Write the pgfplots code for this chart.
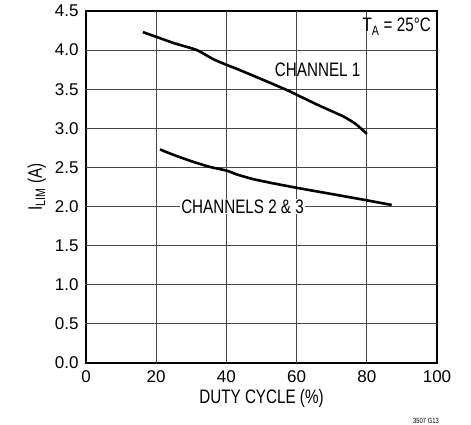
\documentclass[border=0pt]{standalone}
\usepackage{pgfplots}
\pgfplotsset{compat=1.18}
\usepackage{fontspec}
\setmainfont{Liberation Sans}
\newfontfamily\cond{Liberation Sans}[FakeStretch=0.78]
\newcommand{\lab}{\cond\fontsize{19.5}{22}\selectfont}
\definecolor{gridc}{RGB}{70,70,70}
\begin{document}
\begin{tikzpicture}
\begin{axis}[at={(0pt,0pt)}, anchor=south west, scale only axis,
  width=351pt, height=352pt,
  xmin=0, xmax=100, ymin=0, ymax=4.5,
  xtick={0,20,40,60,80,100},
  xticklabels={0,20,40,60,80,100},
  ytick={0,0.5,1,1.5,2,2.5,3,3.5,4,4.5},
  yticklabels={0.0,0.5,1.0,1.5,2.0,2.5,3.0,3.5,4.0,4.5},
  xmajorgrids, ymajorgrids,
  major grid style={solid, draw=gridc, line width=0.9pt},
  axis line style={line width=1.4pt},
  major tick length=0pt,
  yticklabel style={xshift=-4pt},
  xticklabel style={yshift=-4pt},
  tick label style={font=\fontsize{17}{20}\selectfont},
  label style={font=\lab},
  xlabel={DUTY CYCLE (\%)},
  ylabel={I\textsubscript{LIM} (A)},
  ylabel style={yshift=2pt},
  clip=false]
\draw[gridc, line width=0.9pt] (axis cs:20,0) -- (axis cs:20,4.5);
\draw[gridc, line width=0.9pt] (axis cs:40,0) -- (axis cs:40,4.5);
\draw[gridc, line width=0.9pt] (axis cs:60,0) -- (axis cs:60,4.5);
\draw[gridc, line width=0.9pt] (axis cs:80,0) -- (axis cs:80,4.5);
\draw[gridc, line width=0.9pt] (axis cs:0,0.5) -- (axis cs:100,0.5);
\draw[gridc, line width=0.9pt] (axis cs:0,1.0) -- (axis cs:100,1.0);
\draw[gridc, line width=0.9pt] (axis cs:0,1.5) -- (axis cs:100,1.5);
\draw[gridc, line width=0.9pt] (axis cs:0,2.0) -- (axis cs:100,2.0);
\draw[gridc, line width=0.9pt] (axis cs:0,2.5) -- (axis cs:100,2.5);
\draw[gridc, line width=0.9pt] (axis cs:0,3.0) -- (axis cs:100,3.0);
\draw[gridc, line width=0.9pt] (axis cs:0,3.5) -- (axis cs:100,3.5);
\draw[gridc, line width=0.9pt] (axis cs:0,4.0) -- (axis cs:100,4.0);
\addplot[black, line width=2.6pt, smooth, tension=0.4] coordinates {
 (16.2,4.23) (20,4.17) (25,4.09) (31.6,4.00) (36,3.89) (40.1,3.81) (43,3.76)
 (51.5,3.60) (57.2,3.49) (60,3.43) (66,3.30) (73.4,3.15) (77,3.05) (80,2.93)};
\addplot[black, line width=2.6pt, smooth, tension=0.4] coordinates {
 (21.1,2.73) (25,2.66) (30,2.58) (35,2.51) (40,2.46) (43,2.41) (47.7,2.35)
 (53,2.30) (60,2.24) (70,2.16) (80,2.08) (87.1,2.02)};
\node[anchor=center, inner sep=0pt, font=\lab] at (axis cs:66,3.75) {CHANNEL 1};
\node[anchor=center, fill=white, inner xsep=1.5pt, inner ysep=1pt, font=\lab] at (axis cs:44.6,2.0) {CHANNELS 2 \& 3};
\node[anchor=east, inner sep=0pt, font=\lab] at (axis cs:98.3,4.3) {T\textsubscript{A} = 25°C};
\end{axis}
\node[anchor=south, inner sep=0pt, font=\cond\fontsize{7.5}{9}\selectfont] at (340pt,-61pt) {3507 G13};
\path (-86pt,-62pt) rectangle (385pt,363pt);
\end{tikzpicture}
\end{document}
